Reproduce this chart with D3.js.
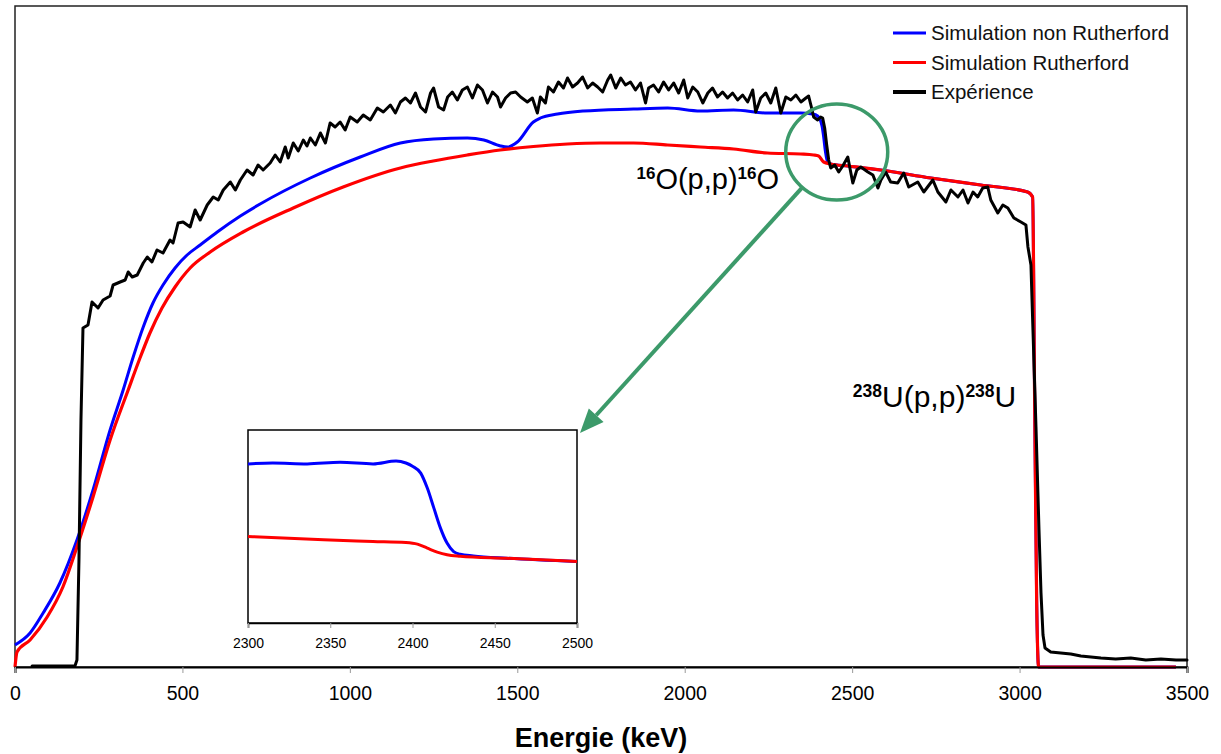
<!DOCTYPE html>
<html><head><meta charset="utf-8">
<script src="https://cdn.jsdelivr.net/npm/d3@7"></script>
<style>body{margin:0;background:#fff;} svg{display:block;font-family:"Liberation Sans",Arial,Helvetica,sans-serif;}</style>
</head><body>
<svg id="chart" width="1221" height="754"></svg>
<script>
// ---------- data ----------
const xTicks = [0, 500, 1000, 1500, 2000, 2500, 3000, 3500];
const insetTicks = [2300, 2350, 2400, 2450, 2500];
const seriesNames = ["Simulation non Rutherford", "Simulation Rutherford", "Expérience"];
const seriesColors = ["#0000ff", "#ff0000", "#000000"];
const xTitle = "Energie (keV)";

// Simulation non Rutherford (energy keV, yield a.u.)
const blueE = [0, 45, 84, 134, 185, 233, 284, 323, 353, 383, 412, 442, 478, 514, 553, 604, 673, 732, 882, 1031, 1151, 1250, 1351, 1400, 1450, 1471, 1500, 1548, 1569, 1620, 1698, 1847, 1949, 2047, 2146, 2247, 2346, 2382, 2397, 2405, 2410, 2415, 2420, 2425, 2430, 2436, 2487, 2585, 2735, 2884, 3024, 3039, 3045, 3051, 3057, 3467];
const blueV = [22, 34, 54, 84, 127, 177, 237, 277, 310, 340, 364, 382, 399, 412, 422, 435, 451, 463, 489, 510, 524, 528, 529, 527, 521, 520, 525, 545, 549, 553, 556, 558, 559, 556, 557, 554, 554, 553, 551, 547, 541, 530, 516, 507, 504, 503, 501, 497, 489, 482, 475, 470, 267, 67, 0, 0];

// Simulation Rutherford
const redE = [0, 6, 45, 96, 143, 185, 233, 284, 338, 371, 403, 439, 478, 523, 583, 681, 831, 980, 1151, 1249, 1351, 1449, 1548, 1650, 1748, 1847, 1949, 2047, 2146, 2247, 2346, 2385, 2400, 2415, 2436, 2487, 2585, 2735, 2884, 3024, 3039, 3045, 3051, 3057, 3467];
const redV = [0, 15, 27, 50, 80, 120, 170, 227, 277, 307, 334, 359, 380, 399, 415, 435, 459, 480, 499, 506, 512, 517, 520.5, 523, 524, 524, 522, 520, 518, 514, 513, 512, 511, 505, 503, 501, 497, 489, 482, 475, 470, 267, 67, 0, 0];

// Expérience
const expE = [51, 179, 185, 191, 197, 203, 218, 230, 248, 263, 284, 293, 314, 329, 338, 350, 365, 383, 395, 409, 424, 442, 463, 472, 487, 502, 523, 538, 553, 574, 592, 607, 622, 643, 658, 673, 693, 711, 726, 741, 762, 777, 792, 807, 816, 831, 846, 861, 872, 882, 897, 912, 927, 941, 956, 971, 986, 1001, 1022, 1040, 1061, 1082, 1100, 1121, 1136, 1151, 1166, 1181, 1196, 1211, 1226, 1241, 1250, 1265, 1280, 1292, 1306, 1321, 1336, 1351, 1366, 1381, 1396, 1411, 1426, 1441, 1450, 1465, 1480, 1495, 1510, 1530, 1545, 1560, 1569, 1584, 1593, 1608, 1623, 1638, 1650, 1665, 1680, 1695, 1710, 1725, 1740, 1755, 1770, 1779, 1794, 1809, 1823, 1838, 1853, 1868, 1883, 1892, 1907, 1922, 1937, 1952, 1967, 1982, 1997, 2009, 2024, 2039, 2054, 2069, 2083, 2098, 2113, 2128, 2143, 2158, 2173, 2188, 2203, 2212, 2227, 2242, 2257, 2272, 2287, 2302, 2317, 2332, 2347, 2362, 2370, 2379, 2385, 2397, 2406, 2412, 2418, 2424, 2430, 2436, 2448, 2460, 2472, 2487, 2502, 2514, 2526, 2547, 2562, 2577, 2586, 2600, 2615, 2636, 2654, 2669, 2696, 2714, 2741, 2756, 2780, 2795, 2816, 2831, 2846, 2861, 2875, 2890, 2905, 2914, 2935, 2950, 2965, 2983, 3004, 3019, 3025, 3034, 3040, 3049, 3058, 3064, 3070, 3076, 3093, 3123, 3153, 3183, 3213, 3243, 3287, 3332, 3377, 3422, 3467, 3500];
const expV = [1, 1, 7, 107, 247, 339, 342, 365, 359, 367, 371, 382, 385, 387, 395, 390, 392, 404, 410, 405, 417, 414, 427, 424, 444, 445, 440, 457, 447, 462, 470, 467, 477, 485, 477, 487, 497, 492, 502, 497, 504, 512, 505, 520, 509, 524, 516, 527, 521, 529, 522, 534, 524, 544, 540, 545, 537, 550, 545, 552, 547, 559, 555, 562, 554, 565, 569, 564, 574, 560, 555, 574, 579, 560, 557, 570, 575, 567, 577, 580, 569, 582, 577, 564, 575, 570, 560, 569, 574, 575, 570, 565, 569, 554, 570, 564, 580, 575, 585, 579, 589, 580, 584, 590, 579, 584, 580, 575, 587, 592, 579, 589, 582, 585, 577, 584, 564, 579, 582, 575, 585, 577, 584, 574, 587, 569, 580, 575, 564, 574, 579, 570, 575, 569, 574, 567, 572, 565, 577, 555, 569, 574, 564, 579, 554, 570, 567, 572, 565, 569, 571, 559, 550, 547, 550, 549, 539, 522, 507, 499, 502, 495, 501, 510, 484, 497, 500, 495, 492, 479, 487, 495, 485, 484, 494, 480, 485, 475, 487, 475, 465, 477, 470, 477, 464, 475, 470, 479, 480, 467, 454, 462, 459, 449, 445, 442, 420, 402, 337, 240, 137, 74, 32, 19, 15, 14, 13, 11, 10, 9, 8, 9, 7, 8, 7, 7];

// Inset (zoom 2300-2500 keV)
const insetBlueE = [2300, 2315, 2336, 2356, 2376, 2390, 2396, 2400, 2405, 2409, 2413, 2417, 2421, 2425, 2429, 2437, 2457, 2500];
const insetBlueV = [554.2, 554.7, 554.2, 555.1, 554.2, 555.8, 554.7, 552.9, 549.1, 540.8, 529.7, 518.6, 510.3, 505.6, 504.1, 503.2, 501.9, 500.1];
const insetRedE = [2300, 2346, 2376, 2396, 2403, 2409, 2415, 2421, 2429, 2457, 2500];
const insetRedV = [514.0, 512.1, 511.2, 510.6, 509.7, 507.5, 505.3, 503.8, 503.0, 501.9, 500.1];

// ---------- chart ----------
const svg = d3.select("#chart");
const W = 1221, H = 754;
const plot = {left: 15, top: 6, right: 1187, bottom: 667};
const x = d3.scaleLinear().domain([0, 3500]).range([plot.left, plot.right]);
const y = d3.scaleLinear().domain([0, 661]).range([plot.bottom, plot.top]);

svg.append("rect").attr("width", W).attr("height", H).attr("fill", "#fff");

// frame
svg.append("rect")
  .attr("x", plot.left).attr("y", plot.top)
  .attr("width", plot.right - plot.left).attr("height", plot.bottom - plot.top)
  .attr("fill", "none").attr("stroke", "#222").attr("stroke-width", 1.5);

const zip = (E, V) => E.map((e, i) => [e, V[i]]);
const smooth = d3.line().x(d => x(d[0])).y(d => y(d[1])).curve(d3.curveMonotoneX);
const raw = d3.line().x(d => x(d[0])).y(d => y(d[1]));

svg.append("path").datum(zip(blueE, blueV)).attr("d", smooth)
  .attr("fill", "none").attr("stroke", seriesColors[0]).attr("stroke-width", 3).attr("stroke-linejoin", "round");
svg.append("path").datum(zip(redE, redV)).attr("d", smooth)
  .attr("fill", "none").attr("stroke", seriesColors[1]).attr("stroke-width", 3.2).attr("stroke-linejoin", "round");
svg.append("path").datum(zip(expE, expV)).attr("d", raw)
  .attr("fill", "none").attr("stroke", seriesColors[2]).attr("stroke-width", 3).attr("stroke-linejoin", "round").attr("stroke-linecap", "round");

// x axis
const xAxis = svg.append("g").attr("transform", `translate(0,${plot.bottom})`)
  .call(d3.axisBottom(x).tickValues(xTicks).tickSize(6).tickPadding(13).tickFormat(d3.format("d")));
xAxis.select(".domain").attr("stroke", "#000").attr("stroke-width", 2);
xAxis.selectAll(".tick line").attr("stroke", "#999");
xAxis.selectAll(".tick text").attr("font-size", 19.5).attr("fill", "#000")
  .attr("font-family", '"Liberation Sans", Arial, sans-serif');

svg.append("text").attr("x", (plot.left + plot.right) / 2).attr("y", 747)
  .attr("text-anchor", "middle").attr("font-size", 27).attr("font-weight", "bold").text(xTitle);

// legend
const lg = svg.append("g");
seriesNames.forEach((n, i) => {
  const yy = 33 + i * 29.5;
  lg.append("line").attr("x1", 893).attr("x2", 926).attr("y1", yy).attr("y2", yy)
    .attr("stroke", seriesColors[i]).attr("stroke-width", i === 2 ? 4 : 3);
  lg.append("text").attr("x", 931).attr("y", yy + 7).attr("font-size", 20.5).attr("fill", "#111").text(n);
});

// annotations: reaction labels
function reaction(ex, ev, sup, body, sup2, body2, fs, ss) {
  const t = svg.append("text").attr("x", x(ex)).attr("y", y(ev)).attr("fill", "#000");
  t.append("tspan").attr("font-size", ss).attr("font-weight", "bold").attr("dy", -10).text(sup);
  t.append("tspan").attr("font-size", fs).attr("dy", 10).text(body);
  t.append("tspan").attr("font-size", ss).attr("font-weight", "bold").attr("dy", -10).text(sup2);
  t.append("tspan").attr("font-size", fs).attr("dy", 10).text(body2);
}
reaction(1856, 478, "16", "O(p,p)", "16", "O", 29, 17);
reaction(2502, 260, "238", "U(p,p)", "238", "U", 30, 17.5);

// inset
const inset = {left: 248, right: 577, top: 430, bottom: 623};
const ix = d3.scaleLinear().domain([2300, 2500]).range([inset.left, inset.right]);
const iy = d3.scaleLinear().domain([466, 573]).range([inset.bottom, inset.top]);
svg.append("rect").attr("x", inset.left).attr("y", inset.top)
  .attr("width", inset.right - inset.left).attr("height", inset.bottom - inset.top)
  .attr("fill", "#fff").attr("stroke", "#000").attr("stroke-width", 1.5);
svg.append("clipPath").attr("id", "ic").append("rect")
  .attr("x", inset.left).attr("y", inset.top)
  .attr("width", inset.right - inset.left).attr("height", inset.bottom - inset.top);
const iline = d3.line().x(d => ix(d[0])).y(d => iy(d[1])).curve(d3.curveMonotoneX);
const ig = svg.append("g").attr("clip-path", "url(#ic)");
ig.append("path").datum(zip(insetBlueE, insetBlueV)).attr("d", iline)
  .attr("fill", "none").attr("stroke", seriesColors[0]).attr("stroke-width", 3);
ig.append("path").datum(zip(insetRedE, insetRedV)).attr("d", iline)
  .attr("fill", "none").attr("stroke", seriesColors[1]).attr("stroke-width", 3);
const iAxis = svg.append("g").attr("transform", `translate(0,${inset.bottom})`)
  .call(d3.axisBottom(ix).tickValues(insetTicks).tickSize(5).tickPadding(10).tickFormat(d3.format("d")));
iAxis.select(".domain").attr("stroke", "#000").attr("stroke-width", 1.5);
iAxis.selectAll(".tick line").attr("stroke", "#999");
iAxis.selectAll(".tick text").attr("font-size", 14).attr("fill", "#000")
  .attr("font-family", '"Liberation Sans", Arial, sans-serif');

// green circle + arrow
const green = "#3c9a6a";
const cx = x(2454), cy = y(515), rx = 51, ry = 48;
svg.append("ellipse").attr("cx", cx).attr("cy", cy).attr("rx", rx).attr("ry", ry)
  .attr("fill", "none").attr("stroke", green).attr("stroke-width", 3.5);
const tx = ix(2500) + 3, ty = iy(573) + 3;
const ang = Math.atan2(ty - cy, tx - cx);
const sx = cx + rx * Math.cos(ang), sy = cy + ry * Math.sin(ang);
const headL = 24, headW = 10;
const ux = Math.cos(ang), uy = Math.sin(ang);
const bx = tx - ux * headL, by = ty - uy * headL;
svg.append("line").attr("x1", sx).attr("y1", sy).attr("x2", bx).attr("y2", by)
  .attr("stroke", green).attr("stroke-width", 4);
svg.append("path")
  .attr("d", `M${tx},${ty}L${bx - uy * headW},${by + ux * headW}L${bx + uy * headW},${by - ux * headW}Z`)
  .attr("fill", green);
</script>
</body></html>
